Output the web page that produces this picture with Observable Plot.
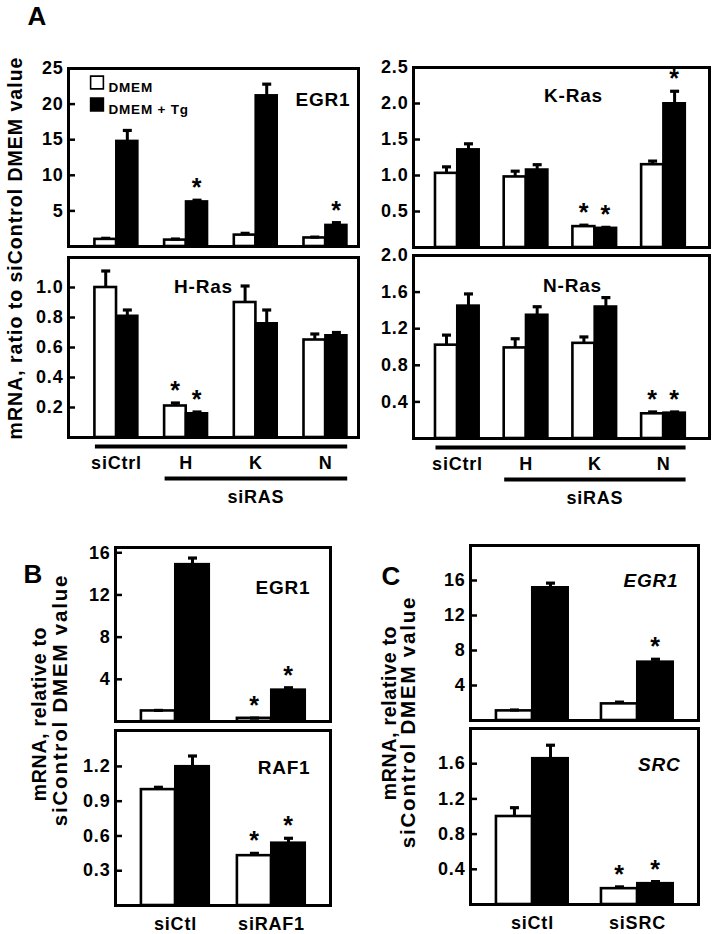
<!DOCTYPE html>
<html><head><meta charset="utf-8">
<script src="https://cdn.jsdelivr.net/npm/d3@7"></script>
<script src="https://cdn.jsdelivr.net/npm/@observablehq/plot@0.6"></script>
<style>
body{margin:0;background:#fff;}
#fig{position:relative;width:718px;height:934px;overflow:hidden;font-family:"Liberation Sans",Arial,Helvetica,sans-serif;font-weight:bold;color:#000;background:#fff;}
.plbl{position:absolute;font-size:26px;font-weight:bold;transform:translate(-50%,-50%);line-height:1;}
.ytitle{position:absolute;white-space:nowrap;transform:translate(-50%,-50%) rotate(-90deg);text-align:center;font-weight:bold;line-height:1;}
</style></head><body><div id="fig"></div>
<script>
// ---------- data ----------
const A_groups = ["siCtrl", "H", "K", "N"];
const B_groups = ["siCtl", "siRAF1"];
const C_groups = ["siCtl", "siSRC"];
const seriesNames = ["DMEM", "DMEM + Tg"];
const groupLabelA = "siRAS";

// Panel A – EGR1
const A_egr1_dmem = [1.0, 0.9, 1.6, 1.2];
const A_egr1_dmemErr = [0.15, 0.15, 0.25, 0.12];
const A_egr1_tg = [14.8, 6.3, 21.2, 3.0];
const A_egr1_tgErr = [1.5, 0.2, 1.6, 0.35];
const A_egr1_sigDmem = [0, 0, 0, 0];
const A_egr1_sigTg = [0, 1, 0, 1];
const A_egr1_ticks = [5, 10, 15, 20, 25];

// Panel A – K-Ras
const A_kras_dmem = [1.03, 0.98, 0.29, 1.15];
const A_kras_dmemErr = [0.09, 0.08, 0.02, 0.05];
const A_kras_tg = [1.36, 1.08, 0.27, 2.0];
const A_kras_tgErr = [0.08, 0.07, 0.01, 0.17];
const A_kras_sigDmem = [0, 0, 1, 0];
const A_kras_sigTg = [0, 0, 1, 1];
const A_kras_ticks = [0.5, 1.0, 1.5, 2.0, 2.5];

// Panel A – H-Ras
const A_hras_dmem = [1.0, 0.21, 0.9, 0.65];
const A_hras_dmemErr = [0.11, 0.02, 0.11, 0.04];
const A_hras_tg = [0.81, 0.16, 0.76, 0.68];
const A_hras_tgErr = [0.04, 0.01, 0.09, 0.02];
const A_hras_sigDmem = [0, 1, 0, 0];
const A_hras_sigTg = [0, 1, 0, 0];
const A_hras_ticks = [0.2, 0.4, 0.6, 0.8, 1.0];

// Panel A – N-Ras
const A_nras_dmem = [1.02, 0.99, 1.04, 0.27];
const A_nras_dmemErr = [0.11, 0.1, 0.07, 0.02];
const A_nras_tg = [1.45, 1.35, 1.44, 0.28];
const A_nras_tgErr = [0.13, 0.09, 0.1, 0.01];
const A_nras_sigDmem = [0, 0, 0, 1];
const A_nras_sigTg = [0, 0, 0, 1];
const A_nras_ticks = [0.4, 0.8, 1.2, 1.6, 2.0];

// Panel B – EGR1
const B_egr1_dmem = [1.0, 0.3];
const B_egr1_dmemErr = [0.05, 0.02];
const B_egr1_tg = [14.9, 3.0];
const B_egr1_tgErr = [0.6, 0.2];
const B_egr1_sigDmem = [0, 1];
const B_egr1_sigTg = [0, 1];
const B_egr1_ticks = [4, 8, 12, 16];

// Panel B – RAF1
const B_raf1_dmem = [1.0, 0.43];
const B_raf1_dmemErr = [0.02, 0.02];
const B_raf1_tg = [1.2, 0.54];
const B_raf1_tgErr = [0.09, 0.04];
const B_raf1_sigDmem = [0, 1];
const B_raf1_sigTg = [0, 1];
const B_raf1_ticks = [0.3, 0.6, 0.9, 1.2];

// Panel C – EGR1
const C_egr1_dmem = [1.1, 1.9];
const C_egr1_dmemErr = [0.1, 0.2];
const C_egr1_tg = [15.2, 6.7];
const C_egr1_tgErr = [0.5, 0.3];
const C_egr1_sigDmem = [0, 0];
const C_egr1_sigTg = [0, 1];
const C_egr1_ticks = [4, 8, 12, 16];

// Panel C – SRC
const C_src_dmem = [1.0, 0.18];
const C_src_dmemErr = [0.1, 0.02];
const C_src_tg = [1.66, 0.24];
const C_src_tgErr = [0.15, 0.02];
const C_src_sigDmem = [0, 1];
const C_src_sigTg = [0, 1];
const C_src_ticks = [0.4, 0.8, 1.2, 1.6];

const yTitleA = "mRNA, ratio to siControl DMEM value";
const yTitleBC = ["mRNA, relative to", "siControl DMEM value"];

// ---------- drawing ----------
const FONT = '"Liberation Sans", Arial, Helvetica, sans-serif';
const fig = document.getElementById("fig");

function drawPanel(c) {
  const showX = !!c.showX;
  const mL = 60, mR = 12, mT = 16, mB = showX ? (c.underlines ? 80 : 34) : 6;
  const fw = c.frame.r - c.frame.l, fh = c.frame.b - c.frame.t;
  const ppu = fw / (c.xDomain[1] - c.xDomain[0]);
  const rows = [];
  c.groups.forEach((g, i) => {
    rows.push({s: 0, v: c.dmem[i], e: c.dmemErr[i], sig: c.sigDmem[i], x1: i - c.half, x2: i, xc: i - c.half / 2});
    rows.push({s: 1, v: c.tg[i], e: c.tgErr[i], sig: c.sigTg[i], x1: i, x2: i + c.half, xc: i + c.half / 2});
  });
  const cap = 4.5 / ppu;
  const tickLen = 7 / ppu;
  const marks = [
    Plot.rect(rows.filter(d => d.s === 0), {x1: "x1", x2: "x2", y1: () => 0, y2: "v", fill: "white", stroke: "black", strokeWidth: 2.6}),
    Plot.rect(rows.filter(d => d.s === 1), {x1: "x1", x2: "x2", y1: () => 0, y2: "v", fill: "black", stroke: "black", strokeWidth: 2}),
    Plot.link(rows, {x1: "xc", x2: "xc", y1: "v", y2: d => d.v + d.e, stroke: "black", strokeWidth: 3}),
    Plot.link(rows, {x1: d => d.xc - cap, x2: d => d.xc + cap, y1: d => d.v + d.e, y2: d => d.v + d.e, stroke: "black", strokeWidth: 3.2}),
    Plot.text(rows.filter(d => d.sig), {x: "xc", y: d => d.v + d.e, text: () => "*", fontSize: 25, dy: -12}),
    Plot.frame({stroke: "black", strokeWidth: 3}),
    Plot.ruleY(c.ticks, {y: d => d, x1: () => c.xDomain[0], x2: () => c.xDomain[0] + tickLen, stroke: "black", strokeWidth: 2.5}),
    Plot.axisY({ticks: c.ticks, tickFormat: c.fmt, tickSize: 0, tickPadding: 5, label: null, fontSize: 18}),
    Plot.text([c.gene], {frameAnchor: c.geneAnchor, text: d => d, dx: c.geneDx, dy: c.geneDy,
      textAnchor: c.geneAnchor === "top" ? "middle" : "end", fontSize: 19, fontStyle: c.italic ? "italic" : "normal"})
  ];
  if (showX) {
    marks.push(Plot.axisX({ticks: c.groups.map((g, i) => i), tickFormat: i => c.groups[i], tickSize: 0,
      tickPadding: c.xPad, label: null, fontSize: 18}));
  }
  if (c.underlines) {
    const last = c.groups.length - 1;
    const spans = [{a: 0 - c.half, b: last + c.half, off: 9}, {a: 1 - c.half, b: last + c.half, off: 41}];
    spans.forEach(s => marks.push(Plot.link([s], {x1: "a", x2: "b", y1: () => 0, y2: () => 0, dy: s.off, stroke: "black", strokeWidth: 4})));
    marks.push(Plot.text([groupLabelA], {x: () => (1 + last) / 2, y: () => 0, text: d => d, dy: 60, fontSize: 18}));
  }
  if (c.legend) {
    marks.push(Plot.dot([0], {frameAnchor: "top-left", dx: 28.5, dy: 14, symbol: "square", r: 7.2, fill: "white", stroke: "black", strokeWidth: 1.6}));
    marks.push(Plot.dot([0], {frameAnchor: "top-left", dx: 28.5, dy: 36, symbol: "square", r: 7.2, fill: "black", stroke: "black", strokeWidth: 1.6}));
    marks.push(Plot.text([seriesNames[0]], {frameAnchor: "top-left", text: d => d, dx: 40, dy: 14, textAnchor: "start", fontSize: 13.5}));
    marks.push(Plot.text([seriesNames[1]], {frameAnchor: "top-left", text: d => d, dx: 40, dy: 36, textAnchor: "start", fontSize: 13.5}));
  }
  const svg = Plot.plot({
    width: mL + fw + mR,
    height: mT + fh + mB,
    marginLeft: mL, marginRight: mR, marginTop: mT, marginBottom: mB,
    x: {type: "linear", domain: c.xDomain, axis: showX ? undefined : null, label: null},
    y: {type: "linear", domain: [0, c.ymax], label: null},
    style: {fontFamily: FONT, fontSize: "18px", fontWeight: "bold", background: "transparent", overflow: "visible", letterSpacing: "0.8px", color: "black"},
    marks
  });
  svg.style.position = "absolute";
  svg.style.left = (c.frame.l - mL) + "px";
  svg.style.top = (c.frame.t - mT) + "px";
  svg.style.maxWidth = "none";
  fig.appendChild(svg);
}

const xA_left = [-0.689, 3.472];
const xA_right = [-0.64, 3.668];

drawPanel({groups: A_groups, dmem: A_egr1_dmem, dmemErr: A_egr1_dmemErr, tg: A_egr1_tg, tgErr: A_egr1_tgErr,
  sigDmem: A_egr1_sigDmem, sigTg: A_egr1_sigTg, ymax: 25, ticks: A_egr1_ticks, fmt: d3.format("d"),
  frame: {l: 68, r: 358, t: 68, b: 246}, xDomain: xA_left, half: 0.31,
  gene: "EGR1", geneAnchor: "top-right", geneDx: -8, geneDy: 24, legend: true});

drawPanel({groups: A_groups, dmem: A_hras_dmem, dmemErr: A_hras_dmemErr, tg: A_hras_tg, tgErr: A_hras_tgErr,
  sigDmem: A_hras_sigDmem, sigTg: A_hras_sigTg, ymax: 1.2, ticks: A_hras_ticks, fmt: d3.format(".1f"),
  frame: {l: 68, r: 358, t: 257, b: 437}, xDomain: xA_left, half: 0.31,
  gene: "H-Ras", geneAnchor: "top", geneDx: -10, geneDy: 22, showX: true, xPad: 19, underlines: true});

drawPanel({groups: A_groups, dmem: A_kras_dmem, dmemErr: A_kras_dmemErr, tg: A_kras_tg, tgErr: A_kras_tgErr,
  sigDmem: A_kras_sigDmem, sigTg: A_kras_sigTg, ymax: 2.5, ticks: A_kras_ticks, fmt: d3.format(".1f"),
  frame: {l: 413, r: 709, t: 67, b: 247}, xDomain: xA_right, half: 0.32,
  gene: "K-Ras", geneAnchor: "top", geneDx: 12, geneDy: 21});

drawPanel({groups: A_groups, dmem: A_nras_dmem, dmemErr: A_nras_dmemErr, tg: A_nras_tg, tgErr: A_nras_tgErr,
  sigDmem: A_nras_sigDmem, sigTg: A_nras_sigTg, ymax: 2.0, ticks: A_nras_ticks, fmt: d3.format(".1f"),
  frame: {l: 413, r: 709, t: 255, b: 438}, xDomain: xA_right, half: 0.32,
  gene: "N-Ras", geneAnchor: "top", geneDx: 11, geneDy: 23, showX: true, xPad: 19, underlines: true});

drawPanel({groups: B_groups, dmem: B_egr1_dmem, dmemErr: B_egr1_dmemErr, tg: B_egr1_tg, tgErr: B_egr1_tgErr,
  sigDmem: B_egr1_sigDmem, sigTg: B_egr1_sigTg, ymax: 16.5, ticks: B_egr1_ticks, fmt: d3.format("d"),
  frame: {l: 115, r: 330, t: 547, b: 721}, xDomain: [-0.625, 1.615], half: 0.355,
  gene: "EGR1", geneAnchor: "top-right", geneDx: -20, geneDy: 33});

drawPanel({groups: B_groups, dmem: B_raf1_dmem, dmemErr: B_raf1_dmemErr, tg: B_raf1_tg, tgErr: B_raf1_tgErr,
  sigDmem: B_raf1_sigDmem, sigTg: B_raf1_sigTg, ymax: 1.51, ticks: B_raf1_ticks, fmt: d3.format(".1f"),
  frame: {l: 115, r: 330, t: 730, b: 905}, xDomain: [-0.625, 1.615], half: 0.355,
  gene: "RAF1", geneAnchor: "top-right", geneDx: -20, geneDy: 30, showX: true, xPad: 12});

drawPanel({groups: C_groups, dmem: C_egr1_dmem, dmemErr: C_egr1_dmemErr, tg: C_egr1_tg, tgErr: C_egr1_tgErr,
  sigDmem: C_egr1_sigDmem, sigTg: C_egr1_sigTg, ymax: 20, ticks: C_egr1_ticks, fmt: d3.format("d"),
  frame: {l: 470, r: 698, t: 545, b: 720}, xDomain: [-0.59, 1.581], half: 0.343,
  gene: "EGR1", italic: true, geneAnchor: "top-right", geneDx: -20, geneDy: 28});

drawPanel({groups: C_groups, dmem: C_src_dmem, dmemErr: C_src_dmemErr, tg: C_src_tg, tgErr: C_src_tgErr,
  sigDmem: C_src_sigDmem, sigTg: C_src_sigTg, ymax: 2.0, ticks: C_src_ticks, fmt: d3.format(".1f"),
  frame: {l: 470, r: 698, t: 728, b: 904}, xDomain: [-0.59, 1.581], half: 0.343,
  gene: "SRC", italic: true, geneAnchor: "top-right", geneDx: -18, geneDy: 29, showX: true, xPad: 12});

// panel letters and shared y titles
function addDiv(cls, html, x, y, extra) {
  const d = document.createElement("div");
  d.className = cls; d.textContent = html;
  d.style.left = x + "px"; d.style.top = y + "px";
  Object.assign(d.style, extra || {});
  fig.appendChild(d);
}
addDiv("plbl", "A", 37, 16);
addDiv("plbl", "B", 33, 574);
addDiv("plbl", "C", 391, 576);
addDiv("ytitle", yTitleA, 16, 248, {fontSize: "19.5px", letterSpacing: "1px"});
// B title, two lines
addDiv("ytitle", yTitleBC[0], 40, 714, {fontSize: "19.5px", letterSpacing: "0.7px"});
addDiv("ytitle", yTitleBC[1], 60, 700, {fontSize: "20.5px", letterSpacing: "1.8px"});
// C title, two lines
addDiv("ytitle", yTitleBC[0], 390, 713, {fontSize: "19.5px", letterSpacing: "0.7px"});
addDiv("ytitle", yTitleBC[1], 408, 722, {fontSize: "20.5px", letterSpacing: "1.8px"});
</script></body></html>
